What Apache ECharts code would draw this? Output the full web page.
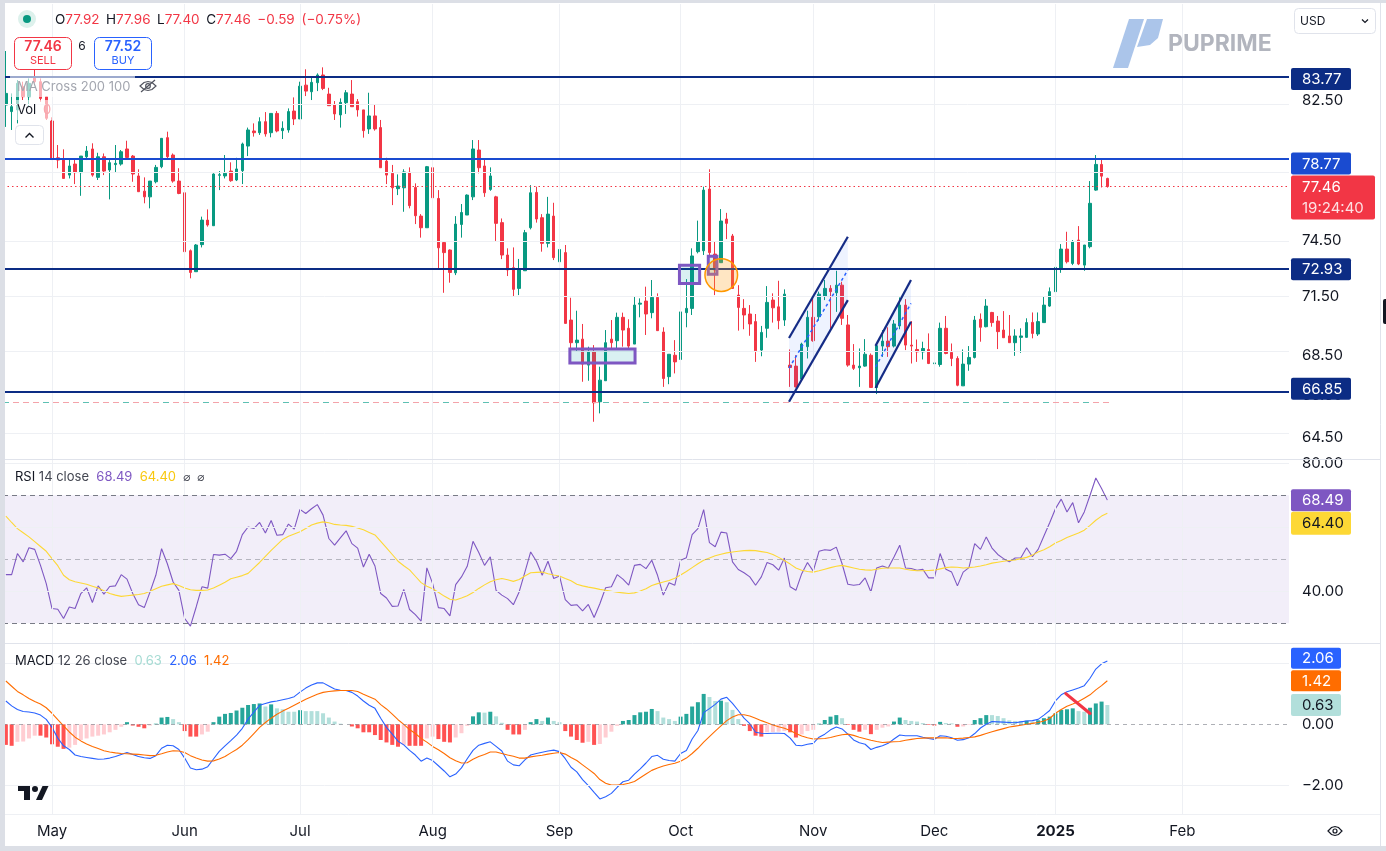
<!DOCTYPE html>
<html>
<head>
<meta charset="utf-8">
<title>USOIL daily</title>
<script src="https://cdn.jsdelivr.net/npm/echarts@6.0.0/dist/echarts.min.js"></script>
<style>
html,body{margin:0;padding:0;background:#ffffff;}
#chart{width:1386px;height:851px;}
</style>
</head>
<body>
<div id="chart"></div>
<script>
// ---------------- DATA ----------------
const openP = [82.20,81.81,81.91,83.30,82.70,83.92,83.61,82.70,81.25,79.10,
78.97,78.11,78.74,78.25,79.16,79.61,77.98,79.16,78.40,78.71,
78.74,79.61,79.20,78.06,77.20,76.88,77.73,78.59,80.27,79.26,
77.77,77.11,73.92,72.80,74.25,75.59,75.28,78.10,78.06,78.34,
77.83,78.36,79.78,80.66,80.56,81.21,80.56,81.70,80.68,80.72,
81.84,81.37,83.40,83.00,83.55,84.02,82.86,82.20,81.61,82.34,
82.86,82.40,81.91,80.78,81.55,80.86,78.91,78.21,77.34,77.39,
78.27,77.41,75.81,75.17,78.53,76.79,74.36,73.96,72.74,75.35,
75.87,76.88,79.55,78.63,77.30,76.88,75.45,73.69,73.01,71.92,
72.85,75.17,77.13,75.72,74.32,75.81,73.33,73.82,70.28,69.13,
69.31,68.01,68.67,66.22,67.24,69.31,69.23,70.42,69.86,69.06,
71.10,71.26,70.66,71.45,69.67,67.44,68.50,68.29,70.66,70.88,
73.87,73.92,77.32,73.74,73.28,75.65,74.72,71.57,70.88,70.59,
70.20,68.76,69.86,71.31,70.96,70.28,68.01,67.96,67.32,68.93,
70.42,70.45,71.52,71.92,71.69,72.09,70.03,68.01,67.88,67.96,
68.50,66.91,68.96,69.21,68.96,69.98,71.05,69.01,68.79,68.67,
68.79,68.08,68.04,69.86,68.64,68.34,66.99,68.06,68.39,70.32,
69.94,70.67,70.23,69.77,69.47,69.13,69.40,69.40,70.16,69.57,
70.15,71.00,71.75,72.92,74.01,73.24,74.50,73.15,74.14,77.26,
78.72,77.92];
const highP = [85.50,82.90,83.71,83.61,83.81,84.33,83.81,82.70,81.47,79.84,
79.59,79.07,79.07,79.20,79.78,79.94,79.39,79.35,78.97,79.84,
79.55,80.09,79.26,78.44,77.98,77.77,78.69,80.23,80.62,79.35,
78.50,77.30,73.99,74.28,75.78,76.18,78.21,78.34,79.26,78.84,
79.10,79.98,80.86,81.11,81.47,81.78,81.70,81.84,81.23,82.00,
82.66,83.61,84.37,83.88,84.12,84.49,83.24,82.44,82.60,83.10,
83.71,82.56,81.91,82.94,82.26,81.31,79.10,78.69,78.15,78.44,
78.55,77.64,75.92,78.63,78.84,77.26,74.41,73.99,75.81,76.48,
77.02,80.13,80.13,79.07,78.55,76.94,75.68,74.05,74.10,73.48,
75.05,77.54,77.45,75.92,76.88,76.55,74.36,74.23,71.43,70.76,
70.08,68.93,69.01,67.93,69.77,70.28,70.66,70.66,70.32,71.48,
71.40,72.01,72.36,71.66,69.91,68.55,69.26,71.87,72.41,74.05,
75.56,77.45,78.44,74.41,76.20,75.99,74.83,72.09,71.36,71.05,
70.59,69.98,72.04,71.66,72.32,71.87,68.79,68.50,69.13,70.76,
71.40,71.75,72.36,72.09,72.85,72.27,70.54,69.06,68.84,69.31,
68.59,69.01,69.77,69.91,70.28,71.45,71.36,70.23,69.29,69.18,
69.60,69.06,70.15,70.49,69.09,68.45,68.79,68.96,70.49,70.62,
71.36,70.70,70.49,70.74,70.54,69.81,69.86,70.37,70.67,70.67,
71.52,71.97,73.69,74.28,74.95,74.50,75.26,74.23,77.77,79.26,
79.05,77.96];
const lowP = [80.90,80.72,81.11,82.50,82.10,83.51,82.40,81.31,78.97,78.50,
77.92,77.92,77.60,76.94,78.97,78.02,77.83,78.11,76.74,78.25,
78.65,79.03,77.73,77.17,76.52,76.24,77.64,78.50,79.07,77.68,
77.03,73.87,72.45,72.80,74.10,75.23,75.28,77.26,77.92,77.73,
77.77,77.60,79.20,80.33,80.43,80.33,80.29,80.58,80.19,80.56,
81.01,81.37,82.74,82.50,83.04,83.10,82.16,81.31,80.86,81.67,
82.10,81.51,80.27,80.49,80.68,78.53,77.60,76.42,76.98,76.05,
76.24,75.37,74.63,75.17,76.27,72.98,71.69,72.22,72.62,74.63,
75.87,76.70,78.21,76.88,77.22,74.45,73.47,72.57,71.48,71.57,
72.85,75.08,75.45,73.87,74.10,73.42,72.98,70.11,68.76,68.72,
67.19,67.24,65.26,65.66,67.24,68.84,68.79,68.93,68.84,69.06,
70.42,69.52,70.37,69.74,66.94,67.07,67.60,66.38,69.91,70.54,
73.78,73.69,73.60,71.57,73.28,74.55,71.92,69.74,69.81,69.48,
68.17,68.45,69.38,70.15,69.81,69.98,66.94,66.91,67.27,68.34,
69.18,70.25,71.31,69.86,70.70,70.03,67.93,67.77,66.94,67.93,
66.91,66.59,68.42,68.42,68.89,69.81,68.76,68.09,68.17,68.29,
68.06,67.73,67.93,68.55,67.96,66.97,66.99,67.73,68.34,69.18,
69.91,69.94,68.81,69.38,69.13,68.47,68.62,69.38,69.35,69.47,
70.15,70.96,71.75,72.74,73.24,73.15,73.15,72.85,74.05,77.22,
77.41,77.40];
const closeP = [82.90,82.10,83.51,82.70,83.51,83.61,82.60,81.41,79.01,78.97,
77.92,78.63,78.25,79.20,79.49,78.11,79.16,78.34,78.82,78.78,
79.45,79.12,78.17,77.17,76.88,77.77,78.55,80.23,79.16,77.77,
77.07,73.87,72.76,74.23,75.59,75.32,78.17,78.13,78.21,77.79,
78.46,79.90,80.72,80.56,81.21,80.49,81.70,80.66,80.82,81.81,
81.37,83.34,83.04,83.57,84.02,83.20,82.16,81.67,82.36,82.94,
82.10,81.91,80.68,81.55,80.78,78.53,78.11,77.39,77.49,78.29,
76.39,75.83,75.17,78.59,76.83,74.08,73.82,72.76,75.37,76.01,
76.98,79.61,78.53,77.11,78.06,75.41,73.69,72.89,71.87,72.92,
74.90,77.11,75.65,74.32,75.92,73.55,73.99,70.11,69.13,69.26,
68.06,68.67,66.17,67.27,69.13,69.13,70.42,69.77,68.96,71.05,
71.15,70.59,71.45,69.74,67.35,68.55,68.17,70.70,70.88,73.64,
74.41,77.26,73.82,72.89,75.54,75.41,71.92,70.93,70.54,70.08,
68.72,69.65,71.19,70.91,70.25,71.62,67.89,66.94,69.06,70.42,
69.23,71.62,71.92,71.75,72.09,70.37,68.01,67.85,67.96,68.55,
66.91,68.98,69.21,68.93,70.08,71.05,69.01,68.96,68.67,68.84,
68.09,68.12,69.86,68.59,68.34,67.02,68.06,68.39,70.28,69.91,
71.00,70.15,69.69,69.38,69.13,69.47,69.47,70.15,69.60,70.20,
71.05,71.75,73.03,74.01,73.33,74.41,73.21,74.23,76.52,78.72,
78.05,77.46];
const rsiValues = [45.2,45.2,51.8,49.2,53.6,53.1,48.1,42.4,34.6,34.4,
31.5,35.1,34.6,39.3,41.1,36.5,41.7,39.1,41.5,41.7,
45.2,43.8,39.3,35.8,34.9,39.8,45.0,53.3,48.6,42.9,
40.3,31.5,29.1,35.1,41.4,41.0,51.5,51.3,51.6,50.2,
52.5,57.7,60.1,59.6,61.5,58.2,62.1,57.5,57.7,61.0,
59.4,65.6,64.3,65.8,67.1,63.8,56.5,54.4,56.7,58.9,
54.9,53.5,47.6,51.6,47.9,39.3,37.9,35.3,35.4,40.6,
34.3,32.7,30.7,47.3,42.4,34.9,34.6,32.3,42.1,44.5,
47.8,55.6,52.1,48.1,50.8,40.3,38.8,37.7,35.8,39.8,
46.0,52.3,49.4,45.0,49.4,44.0,44.8,37.4,35.6,35.8,
33.9,35.9,31.8,36.1,41.1,41.4,45.2,43.8,41.9,48.1,
48.4,47.1,49.7,45.0,38.8,42.7,41.9,49.7,50.5,57.7,
59.6,65.5,55.2,53.9,58.5,58.2,49.2,46.8,45.8,44.5,
41.9,44.5,49.0,48.3,46.6,50.4,41.4,40.3,45.5,49.0,
46.3,52.5,53.0,52.8,53.8,48.6,42.2,41.9,42.1,44.2,
39.8,47.3,47.9,47.3,50.7,54.4,47.3,47.1,46.6,46.9,
44.2,44.2,51.8,46.9,46.0,41.7,46.0,47.4,54.9,53.1,
57.0,53.5,51.5,50.2,49.2,50.4,50.5,53.6,50.8,53.1,
57.3,61.4,65.8,68.8,64.8,67.7,61.4,64.8,70.0,75.4,
72.1,68.49];
const rsiMaValues = [63.5,61.5,59.6,58.3,57.0,55.5,54.0,52.5,50.2,48.0,
45.0,43.6,43.0,42.6,42.2,41.6,41.0,40.2,39.3,38.8,
38.4,38.6,38.8,39.0,39.3,40.0,40.8,41.6,42.0,42.4,
41.8,41.0,40.5,40.3,40.3,40.4,41.0,41.9,42.8,43.9,
44.4,44.9,45.6,47.3,49.0,50.9,52.8,54.5,56.2,57.2,
57.9,58.6,59.6,60.7,61.3,61.7,61.4,60.9,60.7,60.6,
60.3,59.8,59.2,58.4,57.6,55.6,53.6,51.5,49.4,48.0,
46.7,44.7,42.7,41.6,40.8,39.7,38.5,37.5,37.3,37.9,
38.6,39.6,40.9,42.0,43.0,43.6,44.0,43.6,43.1,43.7,
44.8,45.8,45.9,46.0,45.5,45.1,44.8,44.0,43.3,42.2,
41.7,41.3,41.0,40.6,40.3,40.0,39.7,39.5,39.3,39.5,
40.1,40.8,41.8,42.4,42.9,43.4,44.1,45.1,46.2,47.4,
48.6,49.7,50.4,51.1,51.6,52.0,52.3,52.5,52.7,52.8,
52.7,52.4,52.1,51.5,50.6,49.6,48.5,47.3,46.6,46.2,
46.0,46.4,46.9,47.4,47.8,48.1,47.7,47.3,46.9,46.7,
46.6,46.9,47.2,47.3,47.3,47.3,46.9,46.6,46.4,46.4,
46.5,46.6,47.0,47.4,47.6,47.5,47.3,47.4,47.6,47.9,
48.3,48.8,49.1,49.4,49.6,49.8,50.2,50.6,51.3,52.3,
53.0,53.9,55.1,55.9,56.8,57.5,58.2,59.1,60.6,62.2,
63.5,64.40];
const macdValues = [0.76,0.60,0.48,0.42,0.40,0.37,0.30,0.16,-0.10,-0.45,
-0.70,-0.82,-1.00,-1.05,-1.08,-1.11,-1.14,-1.13,-1.10,-1.05,
-0.98,-0.92,-0.98,-1.05,-1.09,-1.11,-1.02,-0.78,-0.68,-0.70,
-0.82,-1.10,-1.42,-1.48,-1.46,-1.38,-1.13,-0.88,-0.70,-0.53,
-0.35,-0.13,0.17,0.40,0.62,0.68,0.73,0.76,0.80,0.84,
0.90,1.05,1.18,1.28,1.35,1.35,1.25,1.15,1.11,1.10,
1.04,0.92,0.76,0.62,0.52,0.20,-0.10,-0.32,-0.55,-0.67,
-0.85,-1.00,-1.20,-1.10,-1.18,-1.35,-1.52,-1.71,-1.62,-1.42,
-1.12,-0.85,-0.68,-0.62,-0.57,-0.72,-0.87,-1.20,-1.32,-1.35,
-1.16,-1.00,-0.95,-0.91,-0.87,-0.84,-0.89,-1.12,-1.40,-1.55,
-1.80,-2.00,-2.22,-2.43,-2.36,-2.25,-2.05,-1.87,-1.82,-1.62,
-1.45,-1.26,-1.05,-1.01,-1.14,-1.18,-1.20,-0.95,-0.85,-0.48,
-0.20,0.38,0.51,0.65,0.82,0.88,0.68,0.45,0.20,0.02,
-0.26,-0.29,-0.30,-0.29,-0.29,-0.30,-0.45,-0.68,-0.70,-0.65,
-0.62,-0.42,-0.32,-0.18,-0.09,-0.15,-0.32,-0.51,-0.60,-0.65,
-0.82,-0.75,-0.70,-0.62,-0.48,-0.35,-0.37,-0.37,-0.37,-0.42,
-0.46,-0.49,-0.37,-0.39,-0.44,-0.52,-0.50,-0.44,-0.30,-0.12,
0.00,0.09,0.08,0.07,0.06,0.05,0.08,0.11,0.12,0.16,
0.30,0.45,0.76,0.96,1.06,1.12,1.18,1.26,1.50,1.80,
1.97,2.06];
const signalValues = [1.41,1.24,1.07,0.96,0.84,0.74,0.66,0.54,0.36,0.15,
-0.05,-0.25,-0.42,-0.54,-0.64,-0.72,-0.79,-0.86,-0.90,-0.93,
-0.95,-0.96,-0.97,-0.98,-1.00,-1.02,-1.01,-0.96,-0.90,-0.86,
-0.87,-0.92,-1.02,-1.10,-1.16,-1.20,-1.19,-1.13,-1.05,-0.93,
-0.82,-0.68,-0.50,-0.30,-0.10,0.06,0.20,0.33,0.43,0.52,
0.62,0.72,0.82,0.90,0.98,1.04,1.07,1.09,1.10,1.10,
1.10,1.07,0.98,0.90,0.82,0.64,0.50,0.33,0.15,0.00,
-0.17,-0.30,-0.46,-0.58,-0.72,-0.83,-0.95,-1.09,-1.19,-1.26,
-1.25,-1.14,-1.05,-0.98,-0.90,-0.90,-0.95,-1.00,-1.04,-1.10,
-1.10,-1.06,-1.03,-1.01,-0.97,-0.94,-0.92,-0.97,-1.08,-1.18,
-1.32,-1.46,-1.60,-1.80,-1.92,-1.98,-1.98,-1.96,-1.92,-1.86,
-1.74,-1.62,-1.50,-1.42,-1.36,-1.31,-1.27,-1.20,-1.10,-0.95,
-0.78,-0.58,-0.40,-0.22,-0.05,0.12,0.24,0.31,0.31,0.27,
0.20,0.12,0.05,-0.02,-0.08,-0.13,-0.20,-0.30,-0.38,-0.44,
-0.48,-0.47,-0.46,-0.43,-0.38,-0.34,-0.32,-0.36,-0.42,-0.47,
-0.52,-0.56,-0.59,-0.58,-0.57,-0.56,-0.52,-0.49,-0.46,-0.45,
-0.44,-0.44,-0.44,-0.44,-0.46,-0.46,-0.45,-0.43,-0.41,-0.36,
-0.30,-0.24,-0.19,-0.14,-0.09,-0.06,-0.03,0.00,0.03,0.06,
0.11,0.19,0.36,0.48,0.59,0.66,0.74,0.85,0.96,1.12,
1.26,1.42];
const histValues = [-0.67,-0.70,-0.57,-0.56,-0.46,-0.37,-0.37,-0.43,-0.65,-0.73,
-0.80,-0.76,-0.67,-0.51,-0.46,-0.40,-0.37,-0.33,-0.26,-0.18,
-0.08,0.07,-0.04,-0.08,-0.13,-0.04,0.02,0.22,0.24,0.17,
0.07,-0.22,-0.40,-0.40,-0.33,-0.24,0.07,0.25,0.34,0.37,
0.45,0.54,0.63,0.66,0.68,0.58,0.65,0.52,0.49,0.41,
0.41,0.46,0.43,0.43,0.43,0.36,0.22,0.09,0.02,0.00,
-0.07,-0.13,-0.26,-0.26,-0.35,-0.51,-0.59,-0.67,-0.73,-0.67,
-0.70,-0.70,-0.70,-0.46,-0.40,-0.48,-0.57,-0.59,-0.43,-0.29,
-0.05,0.26,0.39,0.38,0.41,0.26,0.05,-0.18,-0.33,-0.33,
-0.18,0.07,0.17,0.11,0.22,0.11,0.07,-0.22,-0.40,-0.51,
-0.60,-0.57,-0.67,-0.64,-0.43,-0.24,-0.05,0.11,0.14,0.30,
0.39,0.41,0.50,0.43,0.22,0.17,0.11,0.25,0.34,0.58,
0.72,0.99,0.89,0.76,0.77,0.72,0.47,0.17,-0.05,-0.22,
-0.37,-0.40,-0.26,-0.25,-0.24,-0.22,-0.26,-0.43,-0.33,-0.22,
-0.18,0.02,0.14,0.25,0.30,0.20,-0.02,-0.18,-0.24,-0.18,
-0.32,-0.18,-0.11,-0.07,0.09,0.22,0.14,0.11,0.09,0.04,
-0.02,-0.04,0.08,0.04,0.03,-0.08,-0.07,-0.02,0.14,0.20,
0.30,0.30,0.27,0.20,0.13,0.11,0.11,0.12,0.09,0.13,
0.20,0.25,0.36,0.47,0.49,0.52,0.43,0.41,0.54,0.68,
0.74,0.63];

// tick labels / axis values
const priceTicks = [82.5, 78.5, 74.5, 71.5, 68.5, 66.5, 64.5];
const rsiTicks = [80, 60, 40];
const macdTicks = [2, 0, -2];
const monthNames = ['Jan','Feb','Mar','Apr','May','Jun','Jul','Aug','Sep','Oct','Nov','Dec'];

// horizontal levels drawn on the chart
const levelPrices = [83.77, 78.77, 72.93, 66.85];
const lastPrice = 77.46;
const bidPrice = 77.46, askPrice = 77.52, spreadText = '6';
const countdownText = '19:24:40';
const headerChange = '\u22120.59', headerPct = '(\u22120.75%)';
const dashedLevel = 66.18;

// annotation drawings (candle position, 1-based; price)
const channelDefs = [
  {x1:136.8, x2:147.0, up1:69.37, up2:74.68, lo1:66.22, lo2:71.31, mid1:67.86, mid2:72.89},
  {x1:151.8, x2:157.95, up1:68.97, up2:72.36, lo1:66.89, lo2:70.19, mid1:67.92, mid2:71.14}
];
const boxDefs = [
  {x1:98.8, x2:110.1, p1:68.81, p2:68.11},
  {x1:117.8, x2:121.3, p1:73.14, p2:72.18},
  {x1:122.8, x2:124.3, p1:73.63, p2:72.66}
];
const circleDefs = [{x:125.05, p:72.62}];
const macdStrokeDefs = [{x1:184.8, x2:189.0, v1:1.00, v2:0.355}];

// ---------------- LAYOUT / STYLE ----------------
const FONT = 'Inter, "Noto Sans", "DejaVu Sans", sans-serif';
const TXT = '#131722';
const GRIDC = '#EEF0F4';
const UP = '#089981', DOWN = '#F23645';
const AXFS = 15;
const N_SLOTS = 223;
const startDay = '2024-04-19';
const closedDays = ['2024-12-25', '2025-01-01'];
const priceMin = 63.49, priceMax = 88.48;
const rsiMin = 23.84, rsiMax = 81.03;
const macdMin = -2.921, macdMax = 2.616;
const L = Math.log;

const categories = [];
(function () {
  const d = new Date(startDay + 'T00:00:00Z');
  while (categories.length < N_SLOTS) {
    const wd = d.getUTCDay();
    const s = d.toISOString().slice(0, 10);
    if (wd !== 0 && wd !== 6 && closedDays.indexOf(s) < 0) categories.push(s);
    d.setUTCDate(d.getUTCDate() + 1);
  }
})();
const monthStart = categories.map((c, i) => i > 0 && c.slice(5, 7) !== categories[i - 1].slice(5, 7));
const monthCats = categories.filter((c, i) => monthStart[i]);

const candleData = openP.map((o, i) => [L(o), L(closeP[i]), L(lowP[i]), L(highP[i])]);

function histColor(i) {
  const v = histValues[i], p = i > 0 ? histValues[i - 1] : v;
  if (v >= 0) return v > p ? '#26A69A' : '#B2DFDB';
  return v > p ? '#FFCDD2' : '#FF5252';
}

const ML = (data) => ({silent: true, symbol: ['none', 'none'], label: {show: false}, animation: false, emphasis: {disabled: true}, data: data});
const vLines = () => monthCats.map(c => ({xAxis: c, lineStyle: {color: GRIDC, width: 1, type: 'solid'}}));
const hLine = (v, color, type, width) => ({yAxis: v, lineStyle: {color: color, type: type, width: width}});

const catAxis = (gi, labels) => ({
  type: 'category', gridIndex: gi, data: categories, boundaryGap: true,
  axisLine: {show: false}, axisTick: {show: false}, splitLine: {show: false},
  axisPointer: {show: false},
  axisLabel: labels ? {
    show: true, interval: (i) => monthStart[i], color: TXT, fontSize: AXFS, margin: 10, fontFamily: FONT,
    formatter: (v) => { const m = +v.slice(5, 7); return m === 1 ? '{b|' + v.slice(0, 4) + '}' : monthNames[m - 1]; },
    rich: {b: {fontWeight: 'bold', fontSize: AXFS, color: TXT, fontFamily: FONT}}
  } : {show: false}
});
const valAxis = (gi) => ({type: 'value', gridIndex: gi, min: -0.5, max: N_SLOTS - 0.5, show: false});
const yLabel = (vals, fmt) => ({show: true, customValues: vals, formatter: fmt, color: TXT, fontSize: AXFS, margin: 13, fontFamily: FONT, align: 'left'});
const yBase = {position: 'right', axisLine: {show: false}, axisTick: {show: false}, splitLine: {show: false}};

function drawPrice(params, api) {
  const idx = params.dataIndex;
  const P = (x, p) => api.coord([x - 1, L(p)]);
  if (idx < channelDefs.length) {
    const s = channelDefs[idx];
    const a = P(s.x1, s.up1), b = P(s.x2, s.up2), d = P(s.x2, s.lo2), e = P(s.x1, s.lo1);
    const m1 = P(s.x1, s.mid1), m2 = P(s.x2, s.mid2);
    return {type: 'group', children: [
      {type: 'polygon', shape: {points: [a, b, d, e]}, style: {fill: 'rgba(41,98,255,0.08)'}},
      {type: 'line', shape: {x1: m1[0], y1: m1[1], x2: m2[0], y2: m2[1]}, style: {stroke: '#2962FF', lineWidth: 1.5, lineDash: [3, 3]}},
      {type: 'line', shape: {x1: a[0], y1: a[1], x2: b[0], y2: b[1]}, style: {stroke: '#152C86', lineWidth: 2.2}},
      {type: 'line', shape: {x1: e[0], y1: e[1], x2: d[0], y2: d[1]}, style: {stroke: '#152C86', lineWidth: 2.2}}
    ]};
  }
  const j = idx - channelDefs.length;
  if (j < boxDefs.length) {
    const s = boxDefs[j];
    const a = P(s.x1, s.p1), b = P(s.x2, s.p2);
    return {type: 'rect', shape: {x: a[0], y: a[1], width: b[0] - a[0], height: b[1] - a[1]},
      style: {fill: 'rgba(0,151,167,0.15)', stroke: '#7E57C2', lineWidth: 3}};
  }
  const s = circleDefs[j - boxDefs.length];
  const c = P(s.x, s.p);
  return {type: 'circle', shape: {cx: c[0], cy: c[1], r: 16.3}, style: {fill: 'rgba(255,167,38,0.28)', stroke: '#FF9800', lineWidth: 1.5}};
}
const priceDrawCount = channelDefs.length + boxDefs.length + circleDefs.length;

function drawMacd(params, api) {
  const s = macdStrokeDefs[params.dataIndex];
  const a = api.coord([s.x1 - 1, s.v1]), b = api.coord([s.x2 - 1, s.v2]);
  return {type: 'line', shape: {x1: a[0], y1: a[1], x2: b[0], y2: b[1]}, style: {stroke: '#F23645', lineWidth: 3.2, lineCap: 'round'}};
}

const chart = echarts.init(document.getElementById('chart'), null, {renderer: 'canvas'});
const option = {
  animation: false,
  backgroundColor: '#ffffff',
  textStyle: {fontFamily: FONT},
  grid: [
    {left: 3, width: 1286, top: 4, height: 455.5},
    {left: 3, width: 1286, top: 460, height: 183},
    {left: 3, width: 1286, top: 644, height: 170}
  ],
  xAxis: [catAxis(0, false), catAxis(1, false), catAxis(2, true), valAxis(0), valAxis(2)],
  yAxis: [
    Object.assign({type: 'value', gridIndex: 0, min: L(priceMin), max: L(priceMax),
      axisLabel: yLabel(priceTicks.map(L), v => Math.exp(v).toFixed(2))}, yBase),
    Object.assign({type: 'value', gridIndex: 1, min: rsiMin, max: rsiMax,
      axisLabel: yLabel(rsiTicks, v => v.toFixed(2))}, yBase),
    Object.assign({type: 'value', gridIndex: 2, min: macdMin, max: macdMax,
      axisLabel: yLabel(macdTicks, v => (v < 0 ? '\u2212' : '') + Math.abs(v).toFixed(2))}, yBase)
  ],
  series: [
    // price pane grid
    {type: 'line', xAxisIndex: 0, yAxisIndex: 0, data: [], z: 0, silent: true,
      markLine: ML(vLines().concat(priceTicks.map(t => hLine(L(t), GRIDC, 'solid', 1))))},
    {type: 'candlestick', name: 'price', xAxisIndex: 0, yAxisIndex: 0, z: 3, barWidth: 3,
      data: candleData, silent: true,
      itemStyle: {color: UP, color0: DOWN, borderColor: UP, borderColor0: DOWN, borderWidth: 1},
      markLine: ML(levelPrices.map((v, i) => hLine(L(v), i === 1 ? '#1A4BD0' : '#0C2C84', 'solid', 2))
        .concat([hLine(L(lastPrice), '#F23645', [1.5, 3], 1)]))},
    {type: 'custom', xAxisIndex: 3, yAxisIndex: 0, z: 5, silent: true,
      renderItem: drawPrice,
      data: Array.from({length: priceDrawCount}, (_, i) => [i, L(70)]),
      markLine: ML([
        [{coord: [-0.5, L(dashedLevel)], lineStyle: {color: '#F4A3AA', type: [6, 4], width: 1}}, {coord: [191.5, L(dashedLevel)]}],
        [{coord: [-0.5, L(dashedLevel)], lineStyle: {color: '#5DC1B4', type: [6, 34], width: 1}}, {coord: [191.5, L(dashedLevel)]}]
      ])},
    // RSI pane
    {type: 'line', xAxisIndex: 1, yAxisIndex: 1, data: [], z: 0, silent: true,
      markArea: {silent: true, itemStyle: {color: 'rgba(126,87,194,0.1)'}, data: [[{yAxis: 30}, {yAxis: 70}]]},
      markLine: ML(vLines().concat(rsiTicks.map(t => hLine(t, GRIDC, 'solid', 1)))
        .concat([hLine(70, '#787B86', [5, 4], 1), hLine(30, '#787B86', [5, 4], 1), hLine(50, 'rgba(120,123,134,0.5)', [5, 4], 1)]))},
    {type: 'line', name: 'RSI', xAxisIndex: 1, yAxisIndex: 1, data: rsiValues, z: 3, showSymbol: false, symbol: 'none', silent: true,
      lineStyle: {color: '#7E57C2', width: 1.1}},
    {type: 'line', name: 'RSI MA', xAxisIndex: 1, yAxisIndex: 1, data: rsiMaValues, z: 3, showSymbol: false, symbol: 'none', silent: true,
      lineStyle: {color: '#FDD835', width: 1.1}},
    // MACD pane
    {type: 'line', xAxisIndex: 2, yAxisIndex: 2, data: [], z: 0, silent: true,
      markLine: ML(vLines().concat([hLine(2, GRIDC, 'solid', 1), hLine(-2, GRIDC, 'solid', 1), hLine(0, 'rgba(120,123,134,0.6)', [4, 4], 1)]))},
    {type: 'bar', name: 'Histogram', xAxisIndex: 2, yAxisIndex: 2, barWidth: 4, z: 2, silent: true,
      data: histValues.map((v, i) => ({value: v, itemStyle: {color: histColor(i)}}))},
    {type: 'line', name: 'MACD', xAxisIndex: 2, yAxisIndex: 2, data: macdValues, z: 3, showSymbol: false, symbol: 'none', silent: true,
      lineStyle: {color: '#2962FF', width: 1.1}},
    {type: 'line', name: 'Signal', xAxisIndex: 2, yAxisIndex: 2, data: signalValues, z: 3, showSymbol: false, symbol: 'none', silent: true,
      lineStyle: {color: '#FF6D00', width: 1.1}},
    {type: 'custom', xAxisIndex: 4, yAxisIndex: 2, z: 5, silent: true, renderItem: drawMacd,
      data: macdStrokeDefs.map((d, i) => [i, 0])}
  ]
};
chart.setOption(option);

// ---------------- OVERLAY GRAPHICS ----------------
const G = [];
const text = (x, y, t, st, z) => ({type: 'text', x: x, y: y, z: z || 110, silent: true,
  style: Object.assign({text: t, fontFamily: FONT, fontSize: 13, fill: TXT, verticalAlign: 'middle', align: 'left'}, st || {})});
const rect = (x, y, w, h, st, z, r) => ({type: 'rect', z: z || 105, silent: true, shape: {x: x, y: y, width: w, height: h, r: r || 0}, style: st});
const line = (x1, y1, x2, y2, st, z) => ({type: 'line', z: z || 106, silent: true, shape: {x1: x1, y1: y1, x2: x2, y2: y2}, style: st});

// frame
G.push(rect(0, 0, 5, 851, {fill: '#DCDFE6'}, 130));
G.push(rect(0, 0, 1386, 3, {fill: '#DCDFE6'}, 130));
G.push(rect(0, 846, 1386, 5, {fill: '#DCDFE6'}, 130));
G.push(line(1380.5, 3, 1380.5, 846, {stroke: '#E0E3EB', lineWidth: 1}, 130));
G.push(rect(1383, 299, 5, 25, {fill: '#131722'}, 131, 2));
// pane separators
G.push(line(5, 459.5, 1380, 459.5, {stroke: '#E0E3EB', lineWidth: 1}));
G.push(line(5, 643.5, 1380, 643.5, {stroke: '#E0E3EB', lineWidth: 1}));
G.push(line(5, 814.5, 1380, 814.5, {stroke: '#EEF0F4', lineWidth: 1}));

// legend overlays (semi-transparent backgrounds)
G.push(rect(10, 76, 125, 21, {fill: 'rgba(255,255,255,0.6)'}, 104));
G.push(rect(14, 100, 38, 20, {fill: 'rgba(255,255,255,0.6)'}, 104));

// header line
G.push({type: 'circle', z: 110, silent: true, shape: {cx: 27, cy: 19, r: 9}, style: {fill: '#DDF1EC'}});
G.push({type: 'circle', z: 111, silent: true, shape: {cx: 27, cy: 19, r: 4}, style: {fill: '#089981'}});
const last = closeP.length - 1;
const SP = '\u2002';
G.push(text(55, 20, '{k|O}{v|' + openP[last].toFixed(2) + '}' + SP + '{k|H}{v|' + highP[last].toFixed(2) + '}' + SP + '{k|L}{v|' + lowP[last].toFixed(2) +
  '}' + SP + '{k|C}{v|' + closeP[last].toFixed(2) + '}' + SP + '{v|' + headerChange + SP + headerPct + '}', {
  rich: {k: {fill: TXT, fontSize: 13.5, fontFamily: FONT}, v: {fill: '#F23645', fontSize: 13.5, fontFamily: FONT}}
}));
// sell / buy
G.push(rect(14.5, 37.5, 57, 32, {fill: '#ffffff', stroke: '#F23645', lineWidth: 1}, 110, 5));
G.push(text(43, 47, bidPrice.toFixed(2), {fill: '#F23645', fontSize: 14, fontWeight: 600, align: 'center'}, 111));
G.push(text(43, 61, 'SELL', {fill: '#F23645', fontSize: 11, align: 'center'}, 111));
G.push(text(82, 46, spreadText, {fill: TXT, fontSize: 12, align: 'center'}, 111));
G.push(rect(94.5, 37.5, 57, 32, {fill: '#ffffff', stroke: '#2962FF', lineWidth: 1}, 110, 5));
G.push(text(123, 47, askPrice.toFixed(2), {fill: '#2962FF', fontSize: 14, fontWeight: 600, align: 'center'}, 111));
G.push(text(123, 61, 'BUY', {fill: '#2962FF', fontSize: 11, align: 'center'}, 111));
// MA Cross legend
G.push(text(17, 87, 'MA Cross 200 100', {fill: '#A3A6AF', fontSize: 13}, 111));
G.push({type: 'polygon', z: 111, silent: true, shape: {points: [[140, 86], [144, 82.5], [148, 81.5], [152, 82.5], [156, 86], [152, 89.5], [148, 90.5], [144, 89.5]]},
  style: {fill: 'none', stroke: '#50535E', lineWidth: 1.2}});
G.push({type: 'circle', z: 111, silent: true, shape: {cx: 148, cy: 86, r: 2.3}, style: {fill: 'none', stroke: '#50535E', lineWidth: 1.2}});
G.push(line(141, 92, 155, 80, {stroke: '#50535E', lineWidth: 1.2}, 111));
// Vol legend
G.push(text(17, 110, 'Vol', {fill: TXT, fontSize: 13}, 111));
G.push(text(43, 110, '0', {fill: '#F7A6AD', fontSize: 13}, 111));
// collapse button
G.push(rect(15.5, 125.5, 28, 19, {fill: '#ffffff', stroke: '#E0E3EB', lineWidth: 1}, 110, 4));
G.push({type: 'polyline', z: 111, silent: true, shape: {points: [[25.5, 137.5], [29.5, 133.5], [33.5, 137.5]]}, style: {stroke: TXT, lineWidth: 1.4, fill: 'none'}});

// RSI legend
G.push(text(15, 477, '{a|RSI} {b|14 close}  {c|' + rsiValues[last].toFixed(2) + '}  {d|' + rsiMaValues[last].toFixed(2) + '}  {e|\u2300  \u2300}', {
  rich: {a: {fill: TXT, fontSize: 13, fontFamily: FONT}, b: {fill: '#434651', fontSize: 13, fontFamily: FONT},
    c: {fill: '#7E57C2', fontSize: 13, fontFamily: FONT}, d: {fill: '#F9C80E', fontSize: 13, fontFamily: FONT},
    e: {fill: '#434651', fontSize: 12, fontFamily: FONT}}
}));
// MACD legend
G.push(text(15, 661, '{a|MACD} {b|12 26 close}  {c|' + histValues[last].toFixed(2) + '}  {d|' + macdValues[last].toFixed(2) + '}  {e|' + signalValues[last].toFixed(2) + '}', {
  rich: {a: {fill: TXT, fontSize: 13, fontFamily: FONT}, b: {fill: '#434651', fontSize: 13, fontFamily: FONT},
    c: {fill: '#A5DBD3', fontSize: 13, fontFamily: FONT}, d: {fill: '#2962FF', fontSize: 13, fontFamily: FONT},
    e: {fill: '#FF6D00', fontSize: 13, fontFamily: FONT}}
}));

// TradingView logo
G.push(rect(18, 786, 12, 5, {fill: '#131722'}, 111));
G.push(rect(24, 786, 6, 14, {fill: '#131722'}, 111));
G.push({type: 'circle', z: 111, silent: true, shape: {cx: 35, cy: 789, r: 3}, style: {fill: '#131722'}});
G.push({type: 'polygon', z: 111, silent: true, shape: {points: [[36, 800], [42, 800], [48.5, 786], [42.5, 786]]}, style: {fill: '#131722'}});

// watermark
G.push({type: 'polygon', z: 101, silent: true, shape: {points: [[1113, 68], [1128, 68], [1144, 19], [1129, 19]]}, style: {fill: '#ABC5EA'}});
G.push({type: 'polygon', z: 101, silent: true, shape: {points: [[1147, 19], [1163, 19], [1158, 38], [1150, 45], [1137, 47]]}, style: {fill: '#ABC5EA'}});
G.push(text(1168, 44, 'PUPRIME', {fill: '#B2B5BE', fontSize: 23, fontWeight: 'bold'}, 101));

// currency selector
G.push(rect(1294.5, 8.5, 81, 25, {fill: '#ffffff', stroke: '#E0E3EB', lineWidth: 1}, 110, 4));
G.push(text(1300, 21, 'USD', {fill: TXT, fontSize: 12}, 111));
G.push({type: 'polyline', z: 111, silent: true, shape: {points: [[1362, 19.5], [1365, 22.5], [1368, 19.5]]}, style: {stroke: TXT, lineWidth: 1.2, fill: 'none'}});

// settings eye (bottom right)
G.push({type: 'polygon', z: 111, silent: true, shape: {points: [[1328, 831], [1331.5, 827.5], [1335, 826.5], [1338.5, 827.5], [1342, 831], [1338.5, 834.5], [1335, 835.5], [1331.5, 834.5]]},
  style: {fill: 'none', stroke: TXT, lineWidth: 1.2}});
G.push({type: 'circle', z: 111, silent: true, shape: {cx: 1335, cy: 831, r: 2}, style: {fill: 'none', stroke: TXT, lineWidth: 1.2}});

// price-scale badges
const yP = v => chart.convertToPixel({yAxisIndex: 0}, L(v));
const yR = v => chart.convertToPixel({yAxisIndex: 1}, v);
const yM = v => chart.convertToPixel({yAxisIndex: 2}, v);
function badge(y, w, h, bg, fg, label) {
  G.push(rect(1291, y - h / 2, w, h, {fill: bg}, 120, 2));
  G.push(text(1302, y + 0.5, label, {fill: fg, fontSize: AXFS}, 121));
}
levelPrices.forEach((v, i) => badge(yP(v), 60, 22, i === 1 ? '#1A4BD0' : '#0C2C84', '#ffffff', v.toFixed(2)));
(function () {
  const y = yP(lastPrice);
  G.push(rect(1291, y - 11, 84, 44, {fill: '#F23645'}, 120, 2));
  G.push(text(1302, y + 0.5, lastPrice.toFixed(2), {fill: '#ffffff', fontSize: AXFS}, 121));
  G.push(text(1302, y + 22, countdownText, {fill: 'rgba(255,255,255,0.85)', fontSize: AXFS}, 121));
})();
(function () {
  const y1 = yR(rsiValues[last]);
  const y2 = Math.max(yR(rsiMaValues[last]), y1 + 23);
  badge(y1, 60, 22, '#7E57C2', '#ffffff', rsiValues[last].toFixed(2));
  badge(y2, 60, 23, '#FDD835', TXT, rsiMaValues[last].toFixed(2));
})();
(function () {
  const ySig = yM(signalValues[last]);
  const yMacd = Math.min(yM(macdValues[last]), ySig - 22.5);
  const yHist = Math.max(yM(histValues[last]), ySig + 22.5);
  badge(yMacd, 50, 21, '#2962FF', '#ffffff', macdValues[last].toFixed(2));
  badge(ySig, 50, 21, '#FF6D00', '#ffffff', signalValues[last].toFixed(2));
  badge(yHist, 50, 22, '#B2DFDB', TXT, histValues[last].toFixed(2));
})();

chart.setOption({graphic: G});
</script>
</body>
</html>
